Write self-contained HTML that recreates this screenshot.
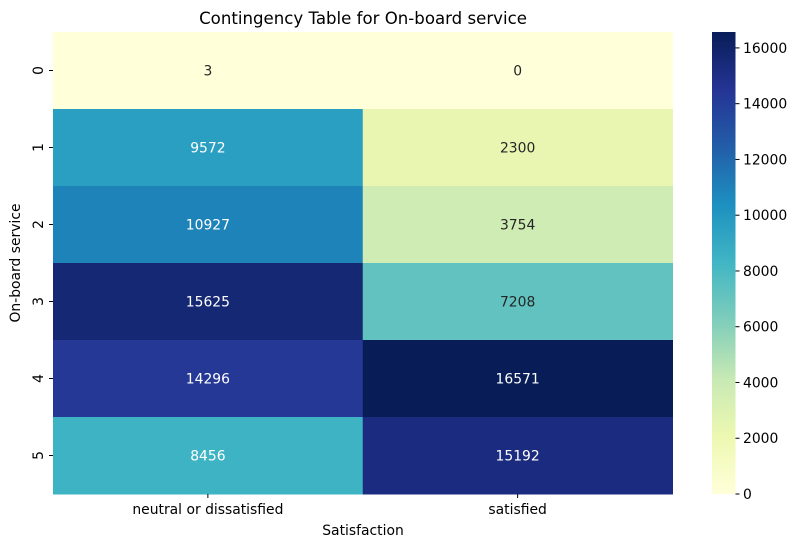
<!DOCTYPE html>
<html><head><meta charset="utf-8"><style>
body{margin:0;background:#fff;}
svg text{font-family:"DejaVu Sans","Liberation Sans",sans-serif;}
</style></head><body>
<svg id="chart" width="798" height="547" xmlns="http://www.w3.org/2000/svg">
<defs>
<linearGradient id="cbgrad" x1="0" y1="1" x2="0" y2="0">
<stop offset="0" stop-color="#ffffd9"/><stop offset="0.125" stop-color="#edf8b1"/><stop offset="0.25" stop-color="#c7e9b4"/><stop offset="0.375" stop-color="#7fcdbb"/><stop offset="0.5" stop-color="#41b6c4"/><stop offset="0.625" stop-color="#1d91c0"/><stop offset="0.75" stop-color="#225ea8"/><stop offset="0.875" stop-color="#253494"/><stop offset="1" stop-color="#081d58"/>
</linearGradient>
</defs>
<text x="363" y="24" text-anchor="middle" font-size="16.6" fill="#000">Contingency Table for On-board service</text>
<g id="cells"></g>
<rect x="712" y="32" width="23.5" height="462" fill="url(#cbgrad)"/>
<g id="cbticks"></g>
<text x="363" y="535" text-anchor="middle" font-size="13.9">Satisfaction</text>
<text transform="translate(20,263) rotate(-90)" text-anchor="middle" font-size="13.9">On-board service</text>
</svg>
<script>
const rowLabels = ["0","1","2","3","4","5"];
const colLabels = ["neutral or dissatisfied","satisfied"];
const neutralValues = [3,9572,10927,15625,14296,8456];
const satisfiedValues = [0,2300,3754,7208,16571,15192];
const cbTicks = [0,2000,4000,6000,8000,10000,12000,14000,16000];

const NS="http://www.w3.org/2000/svg";
const L=53, R=672.5, T=32, B=494;
const series=[neutralValues,satisfiedValues];
const all=neutralValues.concat(satisfiedValues);
const vmin=Math.min(...all), vmax=Math.max(...all);
const stops=["#ffffd9","#edf8b1","#c7e9b4","#7fcdbb","#41b6c4","#1d91c0","#225ea8","#253494","#081d58"].map(h=>[parseInt(h.slice(1,3),16),parseInt(h.slice(3,5),16),parseInt(h.slice(5,7),16)]);
function color(v){let t=(v-vmin)/(vmax-vmin)*(stops.length-1);let i=Math.min(Math.floor(t),stops.length-2);let f=t-i;return stops[i].map((c,k)=>Math.round(c+(stops[i+1][k]-c)*f));}
function lum(c){const l=c.map(x=>{x/=255;return x<=0.03928?x/12.92:Math.pow((x+0.055)/1.055,2.4)});return 0.2126*l[0]+0.7152*l[1]+0.0722*l[2];}
const cw=(R-L)/colLabels.length, ch=(B-T)/rowLabels.length;
const xS=j=>L+j*cw, yS=i=>T+i*ch;
const cbY=v=>B-(v-vmin)/(vmax-vmin)*(B-T);
const g=document.getElementById("cells");
function mk(tag,attrs,parent){const e=document.createElementNS(NS,tag);for(const k in attrs)e.setAttribute(k,attrs[k]);parent.appendChild(e);return e;}
series.forEach((vals,j)=>{vals.forEach((v,i)=>{
  const c=color(v);
  const r=mk("rect",{x:xS(j),y:yS(i),width:cw+0.5,height:ch+0.5,fill:`rgb(${c})`},g);
  
  
  const t=mk("text",{x:xS(j)+cw/2,y:yS(i)+ch/2+5,"text-anchor":"middle","font-size":"13.9",fill:lum(c)>0.408?"#262626":"#ffffff"},g);
  t.textContent=v;
  
  
});});
rowLabels.forEach((lab,i)=>{
  const y=yS(i)+ch/2;
  const tk=mk("line",{x1:L-4,x2:L,y1:y,y2:y,stroke:"#000","stroke-width":1},g);
  
  
  const t=mk("text",{transform:`translate(${L-10},${y}) rotate(-90)`,"text-anchor":"middle","font-size":"13.9"},g);
  t.textContent=lab;
  
  
});
colLabels.forEach((lab,j)=>{
  const x=xS(j)+cw/2;
  const tk=mk("line",{x1:x,x2:x,y1:B,y2:B+4,stroke:"#000","stroke-width":1},g);
  
  
  const t=mk("text",{x:x,y:B+20,"text-anchor":"middle","font-size":"13.9"},g);
  t.textContent=lab;
  
  
});
const cg=document.getElementById("cbticks");
cbTicks.forEach(v=>{
  const y=cbY(v);
  const tk=mk("line",{x1:735.5,x2:739.5,y1:y,y2:y,stroke:"#000","stroke-width":1},cg);
  
  
  const t=mk("text",{x:743,y:y+5,"font-size":"13.9"},cg);
  t.textContent=v;
  
  
});
</script>
</body></html>
